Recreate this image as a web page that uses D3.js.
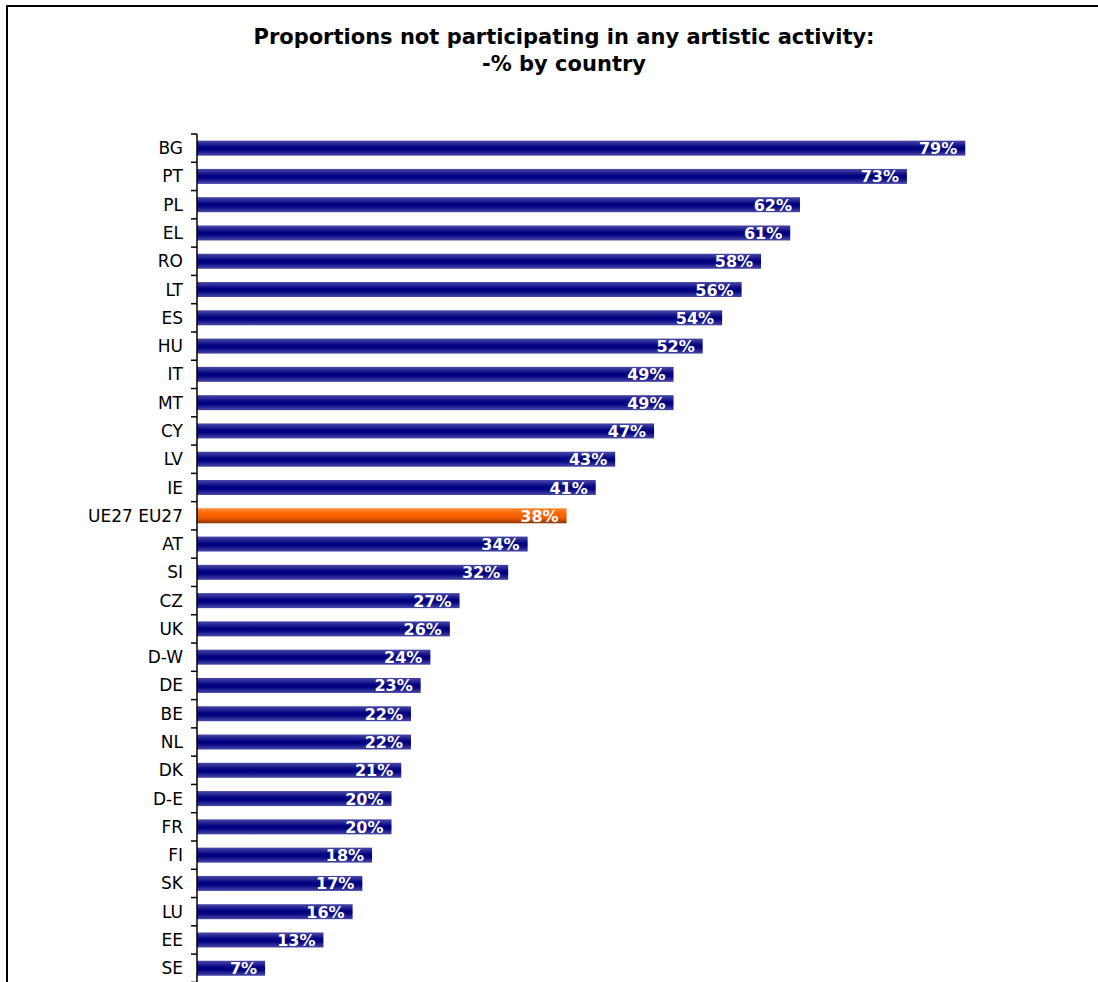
<!DOCTYPE html>
<html><head><meta charset="utf-8">
<script src="https://cdn.jsdelivr.net/npm/d3@7/dist/d3.min.js"></script>
<style>body{margin:0;background:#fff}svg{display:block}</style>
</head><body>
<script>
const categories = ["BG","PT","PL","EL","RO","LT","ES","HU","IT","MT","CY","LV","IE","UE27 EU27","AT","SI","CZ","UK","D-W","DE","BE","NL","DK","D-E","FR","FI","SK","LU","EE","SE"];
const values = [79,73,62,61,58,56,54,52,49,49,47,43,41,38,34,32,27,26,24,23,22,22,21,20,20,18,17,16,13,7];
const highlight = "UE27 EU27";
const titleLines = ["Proportions not participating in any artistic activity:","-% by country"];

const W = 1098, H = 982;
const svg = d3.select("body").append("svg").attr("width", W).attr("height", H);
const defs = svg.append("defs");
const gb = defs.append("linearGradient").attr("id","gBlue").attr("x1",0).attr("y1",0).attr("x2",0).attr("y2",1);
[["0%","#4a4aa8"],["45%","#000080"],["60%","#000080"],["100%","#4a4aa8"]].forEach(s=>gb.append("stop").attr("offset",s[0]).attr("stop-color",s[1]));
const go = defs.append("linearGradient").attr("id","gOrange").attr("x1",0).attr("y1",0).attr("x2",0).attr("y2",1);
[["0%","#ff8a3a"],["35%","#ff6600"],["65%","#ee5c00"],["100%","#8a3300"]].forEach(s=>go.append("stop").attr("offset",s[0]).attr("stop-color",s[1]));

// border
svg.append("rect").attr("x",7).attr("y",6).attr("width",W+20).attr("height",H+20)
  .attr("fill","none").attr("stroke","#000").attr("stroke-width",2);

// title
const title = svg.append("text").attr("text-anchor","middle")
  .attr("font-family","DejaVu Sans").attr("font-weight","bold").attr("font-size",21).attr("fill","#000");
titleLines.forEach((t,i)=>title.append("tspan").attr("x",564).attr("y",44+i*27).text(t));

const x0 = 197;
const x = d3.scaleLinear().domain([0,80]).range([x0, x0+778]);
const step = 28.28;
const yTop = 134;
const y = d3.scaleBand().domain(categories).range([yTop, yTop+step*categories.length]).paddingInner(0.47).paddingOuter(0.235);

const g = svg.append("g");
g.selectAll("rect.bar").data(categories).join("rect").attr("class","bar")
  .attr("x", x(0)).attr("y", d=>y(d)).attr("height", y.bandwidth())
  .attr("width", (d,i)=>x(values[i])-x(0))
  .attr("fill", d=> d===highlight ? "url(#gOrange)" : "url(#gBlue)");

g.selectAll("text.val").data(categories).join("text").attr("class","val")
  .attr("x",(d,i)=>x(values[i])-8).attr("y", d=>y(d)+y.bandwidth()/2+6)
  .attr("text-anchor","end").attr("font-family","DejaVu Sans").attr("font-weight","bold")
  .attr("font-size",16).attr("fill","#fff").text((d,i)=>values[i]+"%");

// axis
const ax = svg.append("g");
ax.append("line").attr("x1",x0).attr("x2",x0).attr("y1",yTop).attr("y2",yTop+step*categories.length)
  .attr("stroke","#000").attr("stroke-width",1.5);
d3.range(categories.length+1).forEach(i=>{
  ax.append("line").attr("x1",x0-6).attr("x2",x0).attr("y1",yTop+i*step).attr("y2",yTop+i*step)
    .attr("stroke","#000").attr("stroke-width",1.5);
});
ax.selectAll("text.cat").data(categories).join("text").attr("class","cat")
  .attr("x",183).attr("y",d=>y(d)+y.bandwidth()/2+6)
  .attr("text-anchor","end").attr("font-family","DejaVu Sans").attr("font-size",17).attr("fill","#000")
  .text(d=>d);
</script>
</body></html>
